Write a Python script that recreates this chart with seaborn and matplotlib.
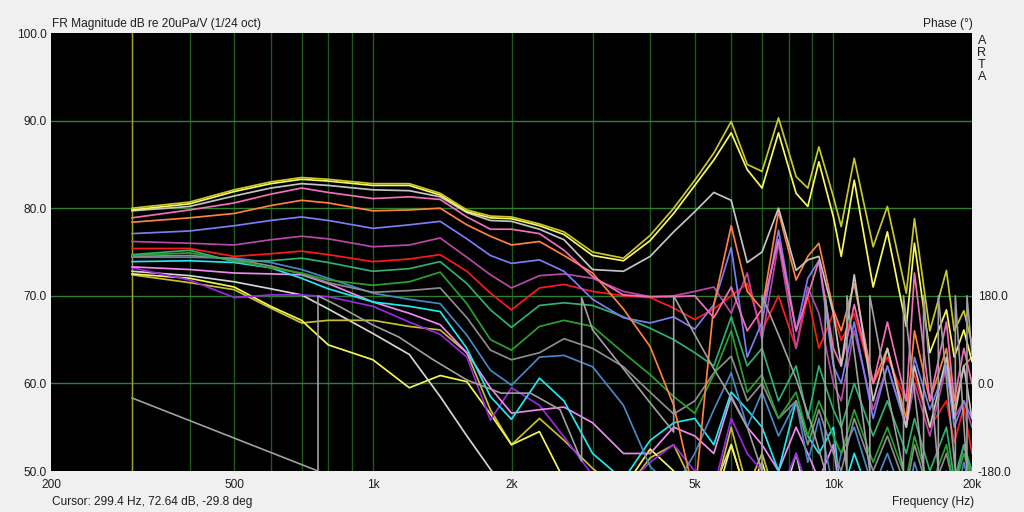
import matplotlib
matplotlib.use("Agg")
import matplotlib.pyplot as plt
import seaborn as sns

# ---------------- data ----------------
FREQ = [300, 400, 500, 600, 700, 800, 1000, 1200, 1400, 1600, 1800, 2000, 2300, 2600,
        3000, 3500, 4000, 4500, 5000, 5500, 6000, 6500, 7000, 7600, 8300, 8800, 9300,
        10000, 10400, 11100, 12200, 13100, 14400, 15000, 16200, 17600, 18300, 19200, 20000]

Y1 = [80.0, 80.7, 82.1, 83.0, 83.5, 83.3, 82.8, 82.8, 81.7, 79.8, 79.1, 79.0, 78.2, 77.3,
      75.0, 74.3, 76.9, 80.0, 83.2, 86.3, 89.9, 85.0, 84.2, 90.3, 83.6, 82.3, 87.0,
      81.3, 77.9, 85.7, 75.6, 80.2, 70.3, 78.8, 66.0, 72.9, 66.0, 68.3, 64.5]
Y2 = [79.8, 80.5, 81.9, 82.8, 83.3, 83.1, 82.6, 82.6, 81.5, 79.6, 78.9, 78.8, 78.0, 77.0,
      74.6, 74.0, 76.3, 79.4, 82.6, 85.5, 88.6, 84.4, 82.3, 88.6, 81.7, 80.2, 85.3,
      79.0, 74.5, 83.2, 71.0, 77.3, 66.5, 76.0, 63.5, 68.4, 63.0, 66.1, 62.5]
G1 = [79.7, 80.2, 81.4, 82.3, 82.8, 82.6, 82.1, 82.0, 81.3, 79.5, 78.6, 78.5, 77.6, 76.4,
      73.0, 72.8, 74.5, 77.3, 79.6, 81.8, 80.9, 73.8, 75.0, 80.0, 72.9, 74.1, 74.5,
      68.0, 62.0, 72.4, 58.0, 64.0, 55.0, 62.0, 55.0, 63.0, 56.0, 62.0, 56.0]
P1 = [78.9, 79.8, 80.6, 81.6, 82.3, 81.8, 81.1, 81.3, 81.0, 79.0, 77.6, 77.6, 77.1, 75.2,
      72.2, 70.1, 69.9, 69.9, 70.0, 67.5, 71.0, 66.0, 68.5, 76.4, 66.0, 70.0, 74.0,
      64.0, 62.0, 69.0, 60.0, 67.0, 58.0, 72.6, 58.0, 67.0, 58.0, 64.0, 60.0]
O1 = [78.4, 78.9, 79.4, 80.3, 80.9, 80.6, 79.7, 79.8, 80.0, 78.1, 76.8, 75.8, 76.2, 74.6,
      72.6, 68.5, 64.2, 57.5, 47.0, 69.0, 78.0, 70.5, 68.5, 79.6, 71.8, 74.5, 76.0,
      68.4, 66.0, 71.4, 60.0, 64.0, 56.0, 66.0, 58.0, 64.0, 57.0, 62.0, 63.0]
S1 = [77.1, 77.4, 78.0, 78.6, 79.0, 78.6, 77.7, 78.1, 78.5, 76.5, 74.6, 73.7, 74.1, 72.8,
      69.6, 67.5, 66.9, 67.6, 66.2, 69.0, 75.5, 63.0, 67.0, 77.5, 66.0, 72.0, 74.0,
      62.0, 60.0, 67.0, 56.0, 62.0, 55.0, 63.0, 57.0, 62.0, 55.0, 58.0, 56.0]
M1 = [76.2, 76.0, 75.8, 76.4, 76.8, 76.5, 75.6, 75.8, 76.6, 74.4, 72.4, 70.9, 72.3, 72.5,
      72.0, 70.5, 69.9, 70.0, 70.5, 71.0, 68.0, 72.6, 65.0, 76.0, 64.0, 71.0, 68.0,
      60.0, 58.0, 66.0, 57.0, 62.0, 55.0, 60.0, 54.0, 62.0, 56.0, 58.0, 55.0]
R1 = [75.4, 75.4, 74.5, 74.8, 75.1, 74.7, 73.9, 74.2, 74.7, 72.8, 70.3, 68.4, 70.9, 71.3,
      70.5, 70.0, 69.8, 68.6, 67.3, 68.5, 70.0, 71.4, 66.0, 70.0, 64.0, 70.0, 64.0,
      68.0, 64.9, 68.0, 60.0, 63.0, 58.0, 61.0, 55.0, 58.0, 53.2, 57.3, 52.0]
SG = [74.7, 75.2, 73.9, 74.0, 74.3, 73.8, 72.8, 73.1, 73.9, 71.4, 68.4, 66.4, 68.9, 69.2,
      68.9, 67.6, 66.3, 65.0, 63.5, 62.0, 67.6, 62.0, 64.0, 58.0, 62.0, 56.0, 62.0,
      57.0, 55.0, 60.0, 54.0, 58.0, 52.0, 56.0, 50.0, 55.0, 49.0, 53.0, 50.0]
GR = [74.6, 74.9, 74.0, 73.2, 72.6, 71.8, 71.2, 71.6, 72.7, 69.1, 65.0, 63.8, 66.5, 67.2,
      66.5, 63.5, 61.0, 58.5, 56.6, 61.0, 66.0, 59.0, 61.0, 56.0, 59.0, 54.0, 58.0,
      54.0, 52.0, 57.0, 51.0, 55.0, 49.0, 54.0, 48.0, 53.0, 48.0, 52.0, 49.0]
GY = [74.5, 74.6, 74.2, 73.4, 72.5, 71.5, 70.4, 70.6, 70.9, 67.5, 63.8, 62.7, 63.5, 65.1,
      64.0, 61.9, 59.0, 56.5, 58.0, 61.2, 63.1, 58.0, 60.0, 56.0, 58.0, 53.0, 57.0,
      52.0, 50.0, 56.0, 50.0, 54.0, 48.0, 53.0, 47.0, 52.0, 48.0, 53.0, 49.0]
SB = [74.4, 74.4, 74.3, 73.8, 73.0, 72.0, 70.3, 69.6, 69.1, 65.5, 61.5, 59.8, 63.0, 63.2,
      61.9, 57.5, 50.5, 48.0, 52.0, 57.0, 61.2, 55.0, 59.0, 54.0, 58.0, 51.0, 56.0,
      48.0, 52.0, 55.0, 48.0, 52.0, 46.0, 51.0, 45.0, 50.0, 46.0, 51.0, 47.0]
CY = [73.9, 74.0, 73.8, 73.2, 72.0, 70.8, 69.3, 68.8, 68.2, 64.0, 58.5, 55.9, 60.6, 58.0,
      52.0, 49.0, 53.5, 55.5, 56.0, 53.0, 59.0, 57.0, 55.0, 50.0, 58.0, 54.0, 52.0,
      55.0, 47.0, 52.0, 46.0, 50.0, 45.0, 48.0, 44.0, 47.0, 44.0, 46.0, 44.0]
VI = [73.3, 73.0, 72.6, 72.5, 72.4, 71.4, 69.3, 68.0, 66.7, 63.5, 59.5, 56.6, 57.0, 57.3,
      55.5, 52.0, 52.0, 55.0, 54.0, 52.0, 58.5, 55.0, 53.0, 50.0, 55.0, 52.0, 49.0,
      53.0, 46.0, 50.0, 45.0, 49.0, 44.0, 47.0, 43.0, 46.0, 43.0, 45.0, 43.0]
PU = [73.2, 71.8, 69.8, 70.1, 70.1, 69.9, 68.8, 67.0, 65.6, 63.0, 55.8, 59.5, 57.5, 53.9,
      49.5, 48.0, 51.0, 53.0, 50.0, 48.0, 56.0, 52.0, 50.0, 47.0, 52.0, 48.0, 46.0,
      49.0, 44.0, 47.0, 43.0, 46.0, 42.0, 45.0, 42.0, 44.0, 42.0, 43.0, 42.0]
LG = [72.8, 72.3, 71.6, 70.8, 70.1, 68.5, 65.7, 63.3, 58.5, 54.0, 50.2, 47.0, 45.0, 45.0,
      45.0, 45.0, 46.0, 47.0, 50.0, 48.0, 53.0, 47.0, 48.0, 45.0, 52.0, 46.0, 48.0,
      46.0, 45.0, 47.0, 44.0, 46.0, 44.0, 45.0, 44.0, 45.0, 44.0, 45.0, 44.0]
YL1 = [72.4, 71.5, 70.7, 68.6, 66.9, 67.2, 67.2, 66.5, 66.1, 63.5, 57.0, 53.0, 56.0, 53.5,
       50.3, 47.5, 51.5, 53.0, 48.0, 47.0, 55.0, 48.0, 52.0, 46.0, 45.0, 45.0, 45.0,
       45.0, 45.0, 45.0, 45.0, 45.0, 45.0, 45.0, 45.0, 45.0, 45.0, 45.0, 45.0]
YL2 = [72.5, 72.0, 71.0, 68.8, 67.2, 64.4, 62.7, 59.5, 60.9, 60.2, 56.5, 53.0, 54.5, 49.0,
       46.0, 48.0, 52.5, 50.0, 47.0, 46.0, 53.0, 47.0, 51.0, 45.0, 45.0, 45.0, 45.0,
       45.0, 45.0, 45.0, 45.0, 45.0, 45.0, 45.0, 45.0, 45.0, 45.0, 45.0, 45.0]

# phase of the cursor curve (wrapped, degrees); repeated frequencies are the wraps
PHASE_F = [300, 760, 760, 850, 1000, 1140, 1350, 1600, 1900, 2200, 2550, 2840, 2840,
           3000, 3500, 4000, 4500, 4500, 5000, 5500, 6000, 6500, 7000, 7000, 7600, 8300,
           9000, 9600, 9600, 10700, 10700, 12000, 12000, 13000, 14200, 14200, 15700,
           15700, 16900, 16900, 18400, 18400, 19500, 19500, 20000]
PHASE_DEG = [-30, -180, 180, 157, 120, 95, 49, 7, -20, -20, -54, -160, 176,
             110, 30, -40, -100, 180, 100, 30, -30, -90, -180, 180, 100, 10,
             -90, -180, 180, -180, 180, -180, 180, 0, -180, 180, -180,
             180, -180, 180, -180, 180, -180, 180, 60]

X_TICKS = [200, 500, 1000, 2000, 5000, 10000, 20000]
X_LABELS = ["200", "500", "1k", "2k", "5k", "10k", "20k"]
Y_TICKS = [50, 60, 70, 80, 90, 100]
PH_TICKS = [-180, 0, 180]
GRID_F = [300, 400, 500, 600, 700, 800, 900, 1000, 2000, 3000, 4000, 5000, 6000,
          7000, 8000, 9000, 10000]
CURSOR_F = 299.4

# ---------------- style ----------------
CURVES = [
    (LG, "#d4d4d4"), (YL1, "#c8c030"), (YL2, "#f4f458"), (PU, "#9a28e0"),
    (VI, "#f088f0"), (CY, "#20e8f0"), (SB, "#4a86c4"), (GY, "#8c8c8c"),
    (GR, "#2ca02c"), (SG, "#30b070"), (R1, "#ff1a1a"), (M1, "#b848a8"),
    (S1, "#7c7cf4"), (O1, "#ff8040"), (P1, "#f070b8"), (G1, "#c4c4c4"),
    (Y2, "#f8f860"), (Y1, "#c8c82a"),
]

plt.rcParams["axes.grid"] = False
plt.rcParams["font.family"] = ["Liberation Sans", "DejaVu Sans"]
TXT = "#1e1e1e"
FS = 8.6

fig = plt.figure(figsize=(10.24, 5.12), dpi=100, facecolor="#f0f0f0")
ax = fig.add_axes([51 / 1024, 41 / 512, 921 / 1024, 438 / 512])
ax.set_facecolor("black")
ax.set_xscale("log")

for vals, col in CURVES:
    sns.lineplot(x=FREQ, y=vals, ax=ax, color=col, lw=1.25, estimator=None,
                 sort=False, legend=False, zorder=3)

for f in GRID_F:
    ax.axvline(f, color="#1e5a1e", lw=1.0, zorder=1)
for v in Y_TICKS[1:-1]:
    ax.axhline(v, color="#2e802e", lw=1.0, zorder=1)
ax.axvline(CURSOR_F, color="#a0a02a", lw=1.0, zorder=1.5)

ax.set_xlim(200, 20000)
ax.set_ylim(50, 100)
ax.set_xticks(X_TICKS)
ax.set_xticklabels(X_LABELS)
ax.xaxis.set_minor_locator(plt.NullLocator())
ax.set_yticks(Y_TICKS)
ax.set_yticklabels([f"{v:.1f}" for v in Y_TICKS])
ax.tick_params(axis="both", which="both", length=0, labelsize=FS, colors=TXT)
ax.tick_params(axis="x", pad=6)
ax.tick_params(axis="y", pad=3)
ax.set_xlabel("")
ax.set_ylabel("")
for s in ax.spines.values():
    s.set_visible(False)

ax2 = ax.twinx()
sns.lineplot(x=PHASE_F, y=PHASE_DEG, ax=ax2, color="#a0a0a0", lw=1.2,
             estimator=None, sort=False, legend=False)
ax2.set_ylim(-180, 720)
ax2.set_xlim(200, 20000)
ax2.set_yticks(PH_TICKS)
ax2.set_yticklabels([f"{v:.1f}" for v in PH_TICKS])
ax2.tick_params(axis="y", length=0, labelsize=FS, colors=TXT, pad=4)
ax2.set_ylabel("")
for s in ax2.spines.values():
    s.set_visible(False)

fig.text(52 / 1024, 1 - 24 / 512, "FR Magnitude dB re 20uPa/V (1/24 oct)",
         ha="left", va="center", fontsize=FS, color=TXT)
fig.text(973 / 1024, 1 - 24 / 512, "Phase (°)", ha="right", va="center",
         fontsize=FS, color=TXT)
for i, ch in enumerate("ARTA"):
    fig.text(982 / 1024, 1 - (41 + 12 * i) / 512, ch, ha="center", va="center",
             fontsize=FS + 0.5, color=TXT)
fig.text(52 / 1024, 1 - 502 / 512, "Cursor: 299.4 Hz, 72.64 dB, -29.8 deg",
         ha="left", va="center", fontsize=FS, color=TXT)
fig.text(974 / 1024, 1 - 502 / 512, "Frequency (Hz)", ha="right", va="center",
         fontsize=FS, color=TXT)

fig.savefig("out.png", dpi=100, facecolor=fig.get_facecolor())
